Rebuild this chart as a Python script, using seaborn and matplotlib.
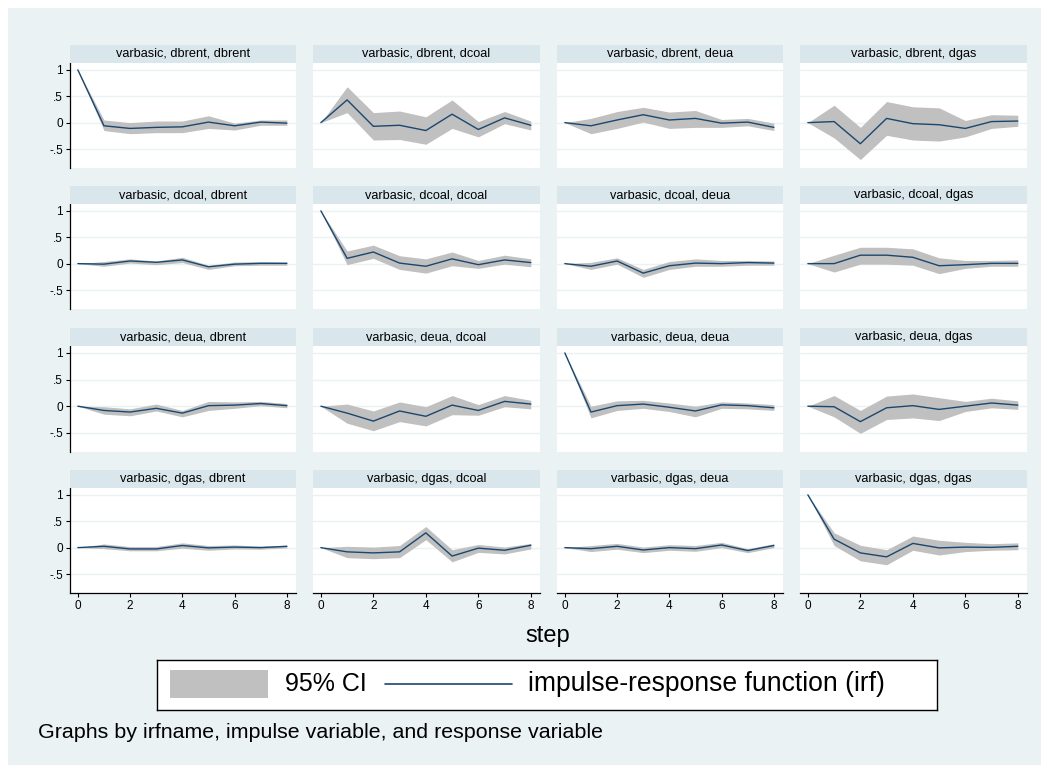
import numpy as np
import pandas as pd
import seaborn as sns
import matplotlib.pyplot as plt
from matplotlib.patches import Rectangle
from matplotlib.lines import Line2D

# impulse-response data
steps = [0, 1, 2, 3, 4, 5, 6, 7, 8]
impulses = ['dbrent', 'dcoal', 'deua', 'dgas']
responses = ['dbrent', 'dcoal', 'deua', 'dgas']

# impulse dbrent
brent_brent_irf = [1, -0.06, -0.11, -0.09, -0.08, 0.01, -0.06, 0.01, -0.01]
brent_brent_lo = [1, -0.15, -0.21, -0.19, -0.19, -0.11, -0.14, -0.05, -0.05]
brent_brent_hi = [1, 0.05, 0.0, 0.03, 0.03, 0.13, -0.01, 0.05, 0.05]
brent_coal_irf = [0, 0.43, -0.07, -0.05, -0.15, 0.16, -0.13, 0.09, -0.05]
brent_coal_lo = [0, 0.19, -0.33, -0.32, -0.41, -0.11, -0.27, -0.02, -0.14]
brent_coal_hi = [0, 0.68, 0.19, 0.22, 0.11, 0.43, 0.02, 0.21, 0.03]
brent_eua_irf = [0, -0.06, 0.05, 0.15, 0.05, 0.08, -0.01, 0.01, -0.09]
brent_eua_lo = [0, -0.21, -0.11, 0.01, -0.11, -0.09, -0.09, -0.06, -0.15]
brent_eua_hi = [0, 0.08, 0.21, 0.29, 0.2, 0.23, 0.06, 0.08, -0.01]
brent_gas_irf = [0, 0.02, -0.4, 0.08, -0.02, -0.04, -0.11, 0.02, 0.03]
brent_gas_lo = [0, -0.29, -0.7, -0.24, -0.33, -0.35, -0.27, -0.11, -0.07]
brent_gas_hi = [0, 0.33, -0.09, 0.4, 0.3, 0.28, 0.04, 0.15, 0.14]

# impulse dcoal
coal_brent_irf = [0, -0.01, 0.05, 0.025, 0.07, -0.06, -0.01, 0.005, 0.005]
coal_brent_lo = [0, -0.05, 0.01, -0.02, 0.02, -0.11, -0.04, -0.03, -0.03]
coal_brent_hi = [0, 0.04, 0.09, 0.05, 0.12, -0.03, 0.03, 0.04, 0.03]
coal_coal_irf = [1, 0.1, 0.22, 0.01, -0.05, 0.09, -0.02, 0.07, 0.02]
coal_coal_lo = [1, -0.02, 0.1, -0.11, -0.18, -0.04, -0.09, -0.01, -0.06]
coal_coal_hi = [1, 0.24, 0.35, 0.15, 0.09, 0.22, 0.06, 0.16, 0.09]
coal_eua_irf = [0, -0.05, 0.05, -0.18, -0.04, 0.01, 0.0, 0.02, 0.01]
coal_eua_lo = [0, -0.11, -0.01, -0.26, -0.11, -0.05, -0.05, -0.03, -0.03]
coal_eua_hi = [0, 0.025, 0.11, -0.11, 0.04, 0.09, 0.06, 0.06, 0.05]
coal_gas_irf = [0, 0.0, 0.16, 0.16, 0.12, -0.04, -0.02, 0.005, 0.005]
coal_gas_lo = [0, -0.16, -0.01, -0.01, -0.03, -0.19, -0.09, -0.05, -0.05]
coal_gas_hi = [0, 0.16, 0.31, 0.31, 0.28, 0.11, 0.06, 0.06, 0.07]

# impulse deua
eua_brent_irf = [0, -0.08, -0.11, -0.04, -0.13, 0.01, 0.02, 0.05, 0.01]
eua_brent_lo = [0, -0.15, -0.18, -0.09, -0.2, -0.08, -0.04, 0.01, -0.03]
eua_brent_hi = [0, -0.01, -0.05, 0.04, -0.08, 0.09, 0.08, 0.09, 0.05]
eua_coal_irf = [0, -0.13, -0.28, -0.09, -0.19, 0.02, -0.08, 0.09, 0.04]
eua_coal_lo = [0, -0.32, -0.46, -0.29, -0.37, -0.16, -0.17, -0.01, -0.05]
eua_coal_hi = [0, 0.04, -0.09, 0.08, -0.01, 0.2, 0.03, 0.2, 0.11]
eua_eua_irf = [1, -0.11, 0.01, 0.04, -0.02, -0.09, 0.025, 0.01, -0.03]
eua_eua_lo = [1, -0.22, -0.08, -0.04, -0.1, -0.2, -0.04, -0.05, -0.08]
eua_eua_hi = [1, 0.0, 0.1, 0.11, 0.06, 0.0, 0.08, 0.06, 0.03]
eua_gas_irf = [0, -0.01, -0.29, -0.03, 0.01, -0.06, 0.0, 0.06, 0.02]
eua_gas_lo = [0, -0.2, -0.51, -0.25, -0.22, -0.27, -0.1, -0.03, -0.06]
eua_gas_hi = [0, 0.2, -0.08, 0.19, 0.23, 0.16, 0.09, 0.15, 0.1]

# impulse dgas
gas_brent_irf = [0, 0.025, -0.025, -0.025, 0.04, -0.005, 0.01, 0.0, 0.025]
gas_brent_lo = [0, -0.02, -0.06, -0.06, -0.01, -0.05, -0.025, -0.03, -0.005]
gas_brent_hi = [0, 0.07, 0.02, 0.02, 0.09, 0.04, 0.05, 0.03, 0.045]
gas_coal_irf = [0, -0.08, -0.1, -0.08, 0.28, -0.16, -0.01, -0.05, 0.045]
gas_coal_lo = [0, -0.19, -0.21, -0.19, 0.15, -0.27, -0.09, -0.12, -0.025]
gas_coal_hi = [0, 0.025, 0.01, 0.04, 0.4, -0.04, 0.06, 0.01, 0.08]
gas_eua_irf = [0, -0.02, 0.025, -0.045, 0.0, -0.02, 0.05, -0.055, 0.04]
gas_eua_lo = [0, -0.075, -0.03, -0.095, -0.05, -0.07, 0.0, -0.095, 0.0]
gas_eua_hi = [0, 0.04, 0.08, 0.01, 0.055, 0.04, 0.1, -0.02, 0.075]
gas_gas_irf = [1, 0.16, -0.1, -0.175, 0.08, -0.005, 0.01, 0.005, 0.025]
gas_gas_lo = [1, 0.04, -0.25, -0.325, -0.05, -0.14, -0.075, -0.05, -0.04]
gas_gas_hi = [1, 0.28, 0.045, -0.04, 0.22, 0.14, 0.1, 0.075, 0.09]

panels = {
    ('dbrent', 'dbrent'): (brent_brent_irf, brent_brent_lo, brent_brent_hi),
    ('dbrent', 'dcoal'): (brent_coal_irf, brent_coal_lo, brent_coal_hi),
    ('dbrent', 'deua'): (brent_eua_irf, brent_eua_lo, brent_eua_hi),
    ('dbrent', 'dgas'): (brent_gas_irf, brent_gas_lo, brent_gas_hi),
    ('dcoal', 'dbrent'): (coal_brent_irf, coal_brent_lo, coal_brent_hi),
    ('dcoal', 'dcoal'): (coal_coal_irf, coal_coal_lo, coal_coal_hi),
    ('dcoal', 'deua'): (coal_eua_irf, coal_eua_lo, coal_eua_hi),
    ('dcoal', 'dgas'): (coal_gas_irf, coal_gas_lo, coal_gas_hi),
    ('deua', 'dbrent'): (eua_brent_irf, eua_brent_lo, eua_brent_hi),
    ('deua', 'dcoal'): (eua_coal_irf, eua_coal_lo, eua_coal_hi),
    ('deua', 'deua'): (eua_eua_irf, eua_eua_lo, eua_eua_hi),
    ('deua', 'dgas'): (eua_gas_irf, eua_gas_lo, eua_gas_hi),
    ('dgas', 'dbrent'): (gas_brent_irf, gas_brent_lo, gas_brent_hi),
    ('dgas', 'dcoal'): (gas_coal_irf, gas_coal_lo, gas_coal_hi),
    ('dgas', 'deua'): (gas_eua_irf, gas_eua_lo, gas_eua_hi),
    ('dgas', 'dgas'): (gas_gas_irf, gas_gas_lo, gas_gas_hi),
}

rows = []
for (imp, resp), (irf, lo, hi) in panels.items():
    for s, a, b, c in zip(steps, irf, lo, hi):
        rows.append({'impulse': imp, 'response': resp, 'step': s,
                     'irf': a, 'lo': b, 'hi': c})
df = pd.DataFrame(rows)

sns.set_style('white')
plt.rcParams['font.family'] = ['Liberation Sans', 'DejaVu Sans']
plt.rcParams['text.color'] = 'black'
plt.rcParams['xtick.color'] = 'black'
plt.rcParams['ytick.color'] = 'black'

W, H = 1049, 773
fig = plt.figure(figsize=(W / 100, H / 100), dpi=100)
fig.patch.set_facecolor('white')

def fx(x):
    return x / W

def fy(y):
    return 1 - y / H

def box(x0, y0, x1, y1):
    # pixel box (top-left origin) -> figure rect
    return [fx(x0), fy(y1), fx(x1) - fx(x0), fy(y0) - fy(y1)]

# stata-like outer graph region
bg = fig.add_axes(box(8, 8, 1041, 765))
bg.set_zorder(-10)
bg.set_facecolor('#eaf2f3')
bg.set_xticks([])
bg.set_yticks([])
for sp in bg.spines.values():
    sp.set_visible(False)

navy = '#1a476f'
ci_gray = '#c0c0c0'
grid_col = '#eaf2f3'
strip_col = '#d9e6eb'

col_x = [(70, 296), (313, 540), (557, 783), (800, 1027)]
row_y = [(63, 168), (204, 309), (346, 452), (488, 593)]
strip_h = 18

for i, imp in enumerate(impulses):
    for j, resp in enumerate(responses):
        x0, x1 = col_x[j]
        y0, y1 = row_y[i]
        ax = fig.add_axes(box(x0, y0, x1, y1))
        ax.set_facecolor('white')
        sub = df[(df['impulse'] == imp) & (df['response'] == resp)]
        ax.fill_between(sub['step'], sub['lo'], sub['hi'], color=ci_gray,
                        linewidth=0, zorder=1)
        sns.lineplot(data=sub, x='step', y='irf', ax=ax, color=navy,
                     linewidth=1.0, zorder=2)
        ax.set_xlim(-0.3, 8.35)
        ax.set_ylim(-0.86, 1.13)
        ax.set_yticks([1, 0.5, 0, -0.5])
        ax.set_xticks([0, 2, 4, 6, 8])
        ax.yaxis.grid(True, color=grid_col, linewidth=1.0)
        ax.xaxis.grid(False)
        ax.set_axisbelow(True)
        ax.set_xlabel('')
        ax.set_ylabel('')
        for sp in ax.spines.values():
            sp.set_visible(False)
        if j == 0:
            ax.spines['left'].set_visible(True)
            ax.spines['left'].set_color('black')
            ax.spines['left'].set_linewidth(0.9)
            ax.set_yticklabels(['1', '.5', '0', '-.5'], fontsize=8.5)
            ax.tick_params(axis='y', length=3, width=0.8, color='black',
                           left=True, pad=2)
        else:
            ax.set_yticklabels([])
            ax.tick_params(axis='y', length=0)
        if i == 3:
            ax.spines['bottom'].set_visible(True)
            ax.spines['bottom'].set_color('black')
            ax.spines['bottom'].set_linewidth(0.9)
            ax.set_xticklabels(['0', '2', '4', '6', '8'], fontsize=8.5)
            ax.tick_params(axis='x', length=3, width=0.8, color='black',
                           bottom=True, pad=2)
        else:
            ax.set_xticklabels([])
            ax.tick_params(axis='x', length=0)

        # strip header
        sax = fig.add_axes(box(x0, y0 - strip_h, x1, y0))
        sax.set_facecolor(strip_col)
        sax.set_xticks([])
        sax.set_yticks([])
        for sp in sax.spines.values():
            sp.set_visible(False)
        sax.text(0.5, 0.5, f'varbasic, {imp}, {resp}', ha='center', va='center',
                 fontsize=9.2, color='black', transform=sax.transAxes)

fig.text(fx(548), fy(636), 'step', ha='center', va='center', fontsize=17)

# legend box
lax = fig.add_axes(box(157, 660, 937, 710))
lax.set_xlim(157, 937)
lax.set_ylim(710, 660)
lax.set_facecolor('white')
lax.set_xticks([])
lax.set_yticks([])
for sp in lax.spines.values():
    sp.set_color('black')
    sp.set_linewidth(1.0)
lax.add_patch(Rectangle((170, 670), 98, 28, facecolor=ci_gray, edgecolor='none'))
lax.text(285, 684, '95% CI', ha='left', va='center', fontsize=18)
lax.add_line(Line2D([385, 512], [684, 684], color=navy, linewidth=1.2))
lax.text(528, 684, 'impulse-response function (irf)', ha='left', va='center',
         fontsize=19.1)

fig.text(fx(38), fy(733), 'Graphs by irfname, impulse variable, and response variable',
         ha='left', va='center', fontsize=15.4)

fig.savefig('out.png', dpi=100, facecolor=fig.get_facecolor())
